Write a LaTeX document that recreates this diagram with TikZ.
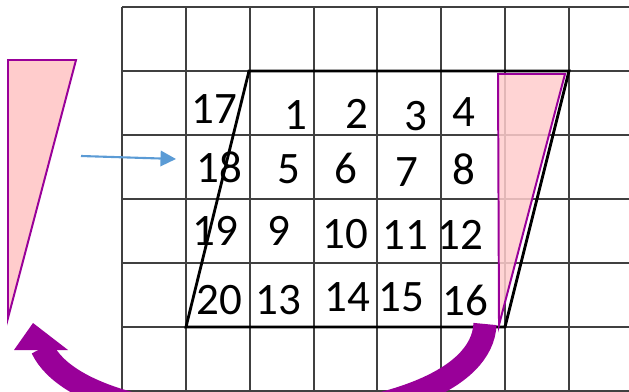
\documentclass[tikz,border=0pt]{standalone}
\usepackage{fontspec}
\setmainfont{Carlito}
\usetikzlibrary{arrows.meta}
\definecolor{rejilla}{HTML}{404040}
\definecolor{morado}{HTML}{990099}
\definecolor{rosa}{HTML}{FFCCCC}
\definecolor{celeste}{HTML}{5B9BD5}

\begin{document}
\begin{tikzpicture}[x=0.025cm, y=-0.025cm,
      num/.style={inner sep=2pt, font=\fontsize{32}{36}\selectfont},
      cuna/.style={draw=morado, fill=rosa, line width=1.4pt, line join=miter}]
    \useasboundingbox (0,0) rectangle (629,392);
    \clip (0,0) rectangle (629,392);
    % cuadricula
    \foreach \x in {122,186,250,314,377,441,505,569}
      \draw[rejilla, line width=1pt] (\x,7) -- (\x,392);
    \foreach \y in {7,71,135,199,263,327,391}
      \draw[rejilla, line width=1pt] (122,\y) -- (629,\y);
    % paralelogramo
    \draw[black, line width=2pt, line join=miter] (249,71) -- (569,71) -- (505,327) -- (186,327) -- cycle;
    % trozo recortado y trozo movido
    \draw[cuna, fill opacity=0.85] (498,74) -- (565,74) -- (499,325) -- cycle;
    \draw[cuna] (8,60) -- (76,60) -- (8,318) -- cycle;
    % numeros
    \foreach \n/\px/\py in {17/214/109, 1/296/115, 2/357/114, 3/416/116, 4/464/112,
                            18/219/167, 5/289/169, 6/346/168, 7/407/172, 8/464/169,
                            19/215/231, 9/279/231, 10/345/234, 11/405/235, 12/460/235,
                            20/219/300, 13/278/300, 14/347/297, 15/401/297, 16/465/300}
      \node[num] (n\n) at (\px,\py) {\n};
    % flecha azul
    \coordinate (azulini) at (81,156);
    \coordinate (azulfin) at (176,159);
    \draw[celeste, line width=1.5pt, -{Triangle[length=11pt, width=11pt]}] (azulini) -- (azulfin);
    % flecha curva
    \coordinate (curvaini) at (485,324);
    \coordinate (curvafin) at (42,348);
    \draw[morado, line width=16.5pt] (curvaini) .. controls (480,440) and (90,450) .. (curvafin);
    \fill[morado] (33,323) -- (14,350) -- (68,350) -- cycle;
  \end{tikzpicture}
\end{document}
